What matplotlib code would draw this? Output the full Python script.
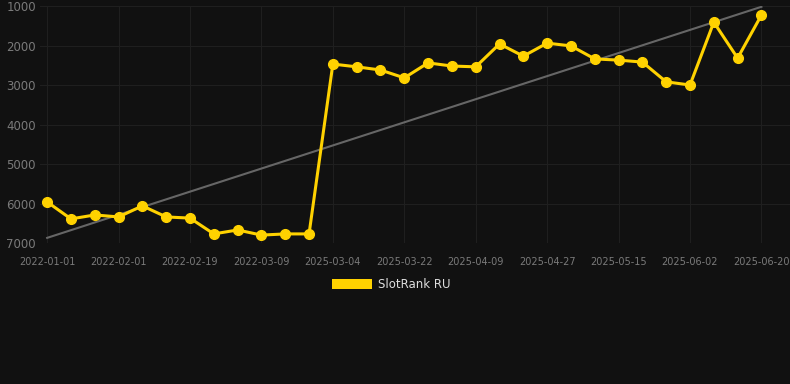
import matplotlib
matplotlib.use("Agg")
import matplotlib.pyplot as plt
from matplotlib.patches import Patch

dates = [
    "2022-01-01", "2022-01-13", "2022-01-23", "2022-02-01", "2022-02-07",
    "2022-02-13", "2022-02-19", "2022-02-25", "2022-03-03", "2022-03-09",
    "2022-03-15", "2022-03-21",
    "2025-03-04", "2025-03-10", "2025-03-16", "2025-03-22", "2025-03-28",
    "2025-04-03", "2025-04-09", "2025-04-15", "2025-04-21", "2025-04-27",
    "2025-05-03", "2025-05-09", "2025-05-15", "2025-05-21", "2025-05-27",
    "2025-06-02", "2025-06-08", "2025-06-14", "2025-06-20",
]
ranks = [
    5960, 6390, 6290, 6340, 6060, 6340, 6370, 6770, 6670, 6800, 6770, 6770,
    2470, 2540, 2620, 2820, 2440, 2520, 2540, 1960, 2270, 1940, 2010,
    2340, 2370, 2420, 2920, 3000, 1410, 2320, 1230,
]
trend = [6870, 1020]  # start / end of the trend line
yticks = [1000, 2000, 3000, 4000, 5000, 6000, 7000]
series_name = "SlotRank RU"

BG = "#111111"
GOLD = "#FFD200"

fig = plt.figure(figsize=(7.9, 3.84), dpi=100, facecolor=BG)
ax = fig.add_axes([40 / 790, (384 - 243) / 384, 750 / 790, 237 / 384])
ax.set_facecolor(BG)

x = list(range(len(dates)))
ax.plot([x[0], x[-1]], trend, color="#666666", linewidth=1.5, zorder=2)
ax.plot(x, ranks, color=GOLD, linewidth=2.2, marker="o", markersize=7, zorder=3)

ax.set_ylim(7000, 1000)
ax.set_xlim(-0.3, len(dates) - 1 + 1.2)
ax.set_yticks(yticks)
ax.set_yticklabels([str(v) for v in yticks])
tick_idx = x[::3]
ax.set_xticks(tick_idx)
ax.set_xticklabels([dates[i] for i in tick_idx])

ax.grid(True, color="#1f1f1f", linewidth=0.8)
ax.set_axisbelow(True)
for s in ax.spines.values():
    s.set_visible(False)
ax.tick_params(axis="both", length=0, colors="#7a7a7a")
ax.tick_params(axis="x", labelsize=7, pad=10)
ax.tick_params(axis="y", labelsize=8.5, pad=3)

fig.legend(handles=[Patch(facecolor=GOLD, label=series_name)],
           loc="center", bbox_to_anchor=(0.495, 0.26), frameon=False,
           fontsize=8.5, labelcolor="#dddddd", handlelength=3.4,
           handleheight=0.95, handletextpad=0.5)

fig.savefig("out.png", dpi=100, facecolor=BG)
